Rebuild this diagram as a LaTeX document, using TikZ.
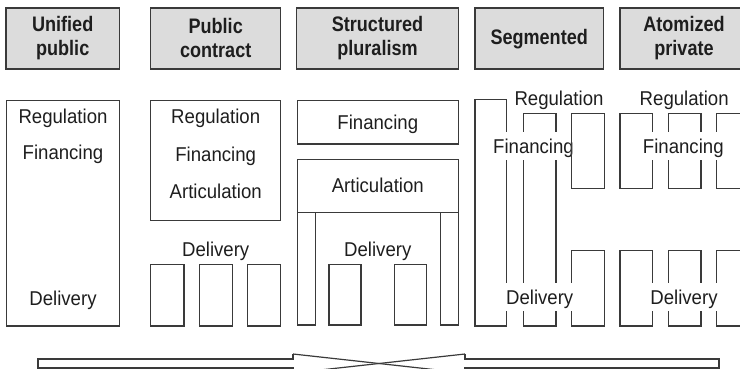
\documentclass[tikz,border=0pt]{standalone}
\usepackage{fontspec}
\setmainfont{Liberation Sans}
\newfontfamily\bodyfont[FakeStretch=0.93]{Liberation Sans}
\newfontfamily\hdfont[FakeStretch=0.86]{Liberation Sans}
\definecolor{ln}{HTML}{3A3A3A}
\definecolor{hdfill}{HTML}{DCDCDC}
\definecolor{tx}{HTML}{1E1E1E}
\begin{document}
\begin{tikzpicture}[x=1pt,y=-1pt,
  box/.style={draw=ln,line width=1.2pt},
  hdbox/.style={draw=ln,fill=hdfill,line width=1.4pt},
  hd/.style={font=\hdfont\bfseries\fontsize{21}{23.6}\selectfont,text=tx,align=center,inner sep=0pt},
  lbl/.style={font=\bodyfont\fontsize{20}{22}\selectfont,text=tx,inner sep=0pt,anchor=base},
  gaplbl/.style={lbl,fill=white,text height=15pt,text depth=0pt,inner xsep=2.5pt,inner ysep=6.5pt}]
\path[use as bounding box] (0,0) rectangle (740,369);
\clip (0,0) rectangle (740,369);

% headers
\draw[hdbox] (6,8) rectangle (119.3,69);
\draw[hdbox] (150.7,8) rectangle (280.7,69);
\draw[hdbox] (296.7,8) rectangle (458.3,69);
\draw[hdbox] (475,8) rectangle (603.3,69);
\draw[hdbox] (620,8) rectangle (749,69);
\node[hd] (h1) at (62.7,38) {Unified\\public};
\node[hd] (h2) at (215.7,38) {Public\\contract};
\node[hd] (h3) at (377.5,38) {Structured\\pluralism};
\node[hd] (h4) at (539.2,39) {Segmented};
\node[hd] (h5) at (684,38) {Atomized\\private};

% column 1
\draw[box] (6.7,100.7) rectangle (119.3,326);
\node[lbl] (c1r) at (63,123.3) {Regulation};
\node[lbl] (c1f) at (63,160) {Financing};
\node[lbl] (c1d) at (63,305) {Delivery};

% column 2
\draw[box] (150.7,100.7) rectangle (280.7,220.7);
\node[lbl] (c2r) at (215.7,123.3) {Regulation};
\node[lbl] (c2f) at (215.7,161.7) {Financing};
\node[lbl] (c2a) at (215.7,198.3) {Articulation};
\node[lbl] (c2d) at (215.7,256.7) {Delivery};
\draw[box] (150.7,264.3) rectangle (184,326);
\draw[box] (199.3,264.3) rectangle (232.7,326);
\draw[box] (247.3,264.3) rectangle (280.7,326);

% column 3
\draw[box] (297.3,100.7) rectangle (458.3,144);
\node[lbl] (c3f) at (377.8,129.3) {Financing};
\draw[box] (297.3,159.3) rectangle (458.3,212.7);
\node[lbl] (c3a) at (377.8,192.7) {Articulation};
\draw[box] (297.3,212.7) rectangle (315.7,325);
\draw[box] (440.7,212.7) rectangle (458.3,325);
\node[lbl] (c3d) at (377.8,256.7) {Delivery};
\draw[box] (329,264.3) rectangle (361,325);
\draw[box] (394.3,264.3) rectangle (426.7,325);

% column 4
\draw[box] (475,99.3) rectangle (506.7,326);
\draw[box] (523.3,113.3) rectangle (556,326);
\draw[box] (571.7,250.7) rectangle (604.3,326);
\node[lbl] (c4r) at (559,106) {Regulation};
\node[gaplbl] (c4f) at (533.5,153.3) {Financing};
\node[gaplbl] (c4d) at (539.7,304) {Delivery};
\draw[box] (571.7,113.3) rectangle (604.3,188.3);

% column 5
\draw[box] (620,113.3) rectangle (652.7,188.3);
\draw[box] (668.3,113.3) rectangle (701,188.3);
\draw[box] (716.7,113.3) rectangle (749.4,188.3);
\draw[box] (620,250.7) rectangle (652.7,326);
\draw[box] (668.3,250.7) rectangle (701,326);
\draw[box] (716.7,250.7) rectangle (749.4,326);
\node[lbl] (c5r) at (684.2,106) {Regulation};
\node[gaplbl] (c5f) at (683.3,153.3) {Financing};
\node[gaplbl] (c5d) at (684,304) {Delivery};

% bottom band
\draw[box,line join=miter] (293,354) -- (293,359) -- (38,359) -- (38,368) -- (293,368) -- (293,373);
\draw[box,line join=miter] (465,354) -- (465,359) -- (719,359) -- (719,368) -- (465,368) -- (465,373);
\draw[box] (293,354) -- (465,373);
\draw[box] (293,373) -- (465,354);
\end{tikzpicture}
\end{document}
